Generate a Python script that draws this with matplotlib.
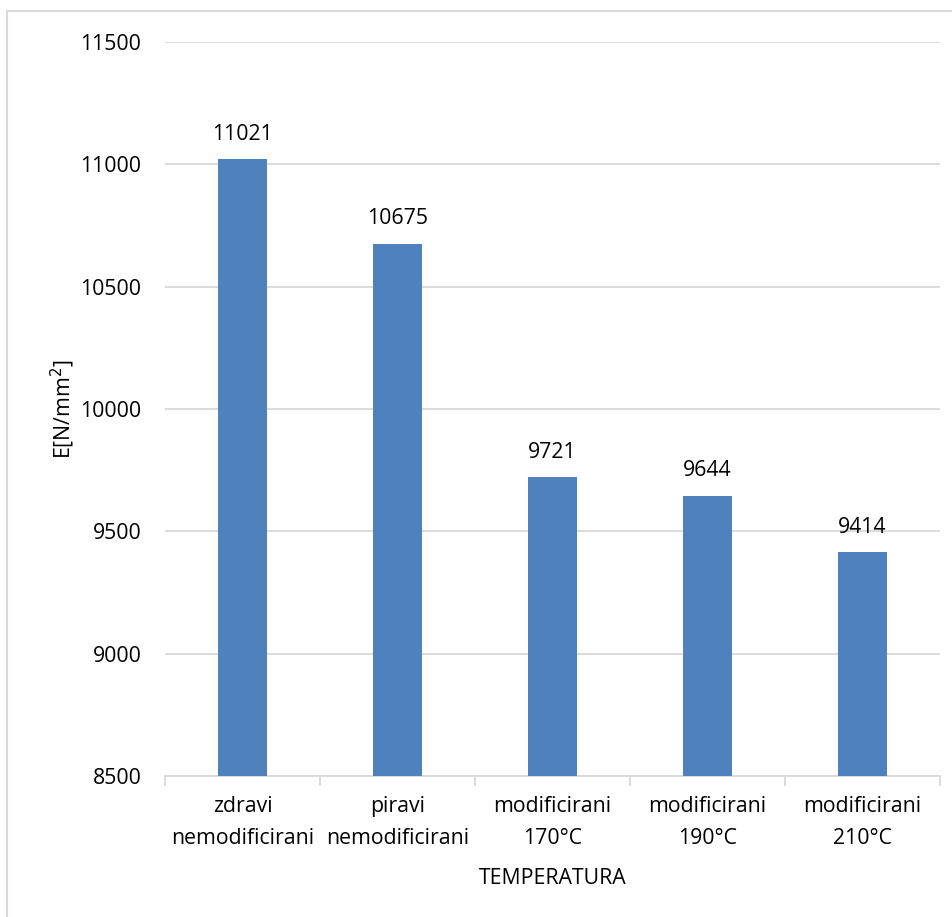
import matplotlib.pyplot as plt
from matplotlib.patches import Rectangle

kategorije = ["zdravi\nnemodificirani", "piravi\nnemodificirani",
              "modificirani\n170°C", "modificirani\n190°C", "modificirani\n210°C"]
vrijednosti = [11021, 10675, 9721, 9644, 9414]
y_ticks = [8500, 9000, 9500, 10000, 10500, 11000, 11500]

plt.rcParams['font.family'] = ['Open Sans', 'DejaVu Sans']
fs = 15.3

W, H = 953, 917
fig = plt.figure(figsize=(W / 100, H / 100), dpi=100)
ax = fig.add_axes([165 / W, 1 - 776 / H, (940 - 165) / W, (776 - 42) / H])

# okvir grafikona (desni i donji rub izvan slike)
fig.patches.append(Rectangle((7 / W, -0.01), 1.0, 1 - 11 / H + 0.01,
                             transform=fig.transFigure, fill=False,
                             edgecolor='#D9D9D9', linewidth=1.5))

x = range(len(kategorije))
bars = ax.bar(x, vrijednosti, width=0.31, color='#4F81BD', zorder=3)
for b, v in zip(bars, vrijednosti):
    ax.text(b.get_x() + b.get_width() / 2, v + 60, str(v),
            ha='center', va='bottom', fontsize=fs, color='black')

ax.set_xlim(-0.5, len(kategorije) - 0.5)
ax.set_ylim(8500, 11500)
ax.set_yticks(y_ticks)
ax.set_yticklabels([str(t) for t in y_ticks], fontsize=fs)
ax.tick_params(axis='y', length=0, pad=17)
ax.grid(axis='y', color='#D9D9D9', linewidth=1.3, zorder=0)

ax.set_xticks(list(x))
ax.set_xticklabels(kategorije, fontsize=fs, linespacing=1.65)
ax.tick_params(axis='x', length=0, pad=14.5)
# oznake granica kategorija
ax.set_xticks([i - 0.5 for i in range(len(kategorije) + 1)], minor=True)
ax.tick_params(axis='x', which='minor', length=7, color='#D9D9D9', width=1.3)

for s in ['top', 'right', 'left']:
    ax.spines[s].set_visible(False)
ax.spines['bottom'].set_color('#D9D9D9')
ax.spines['bottom'].set_linewidth(1.3)

ax.set_ylabel('E[N/mm$^2$]', fontsize=fs, labelpad=2)
ax.set_xlabel('TEMPERATURA', fontsize=fs, labelpad=14)

fig.savefig('out.png', dpi=100)
